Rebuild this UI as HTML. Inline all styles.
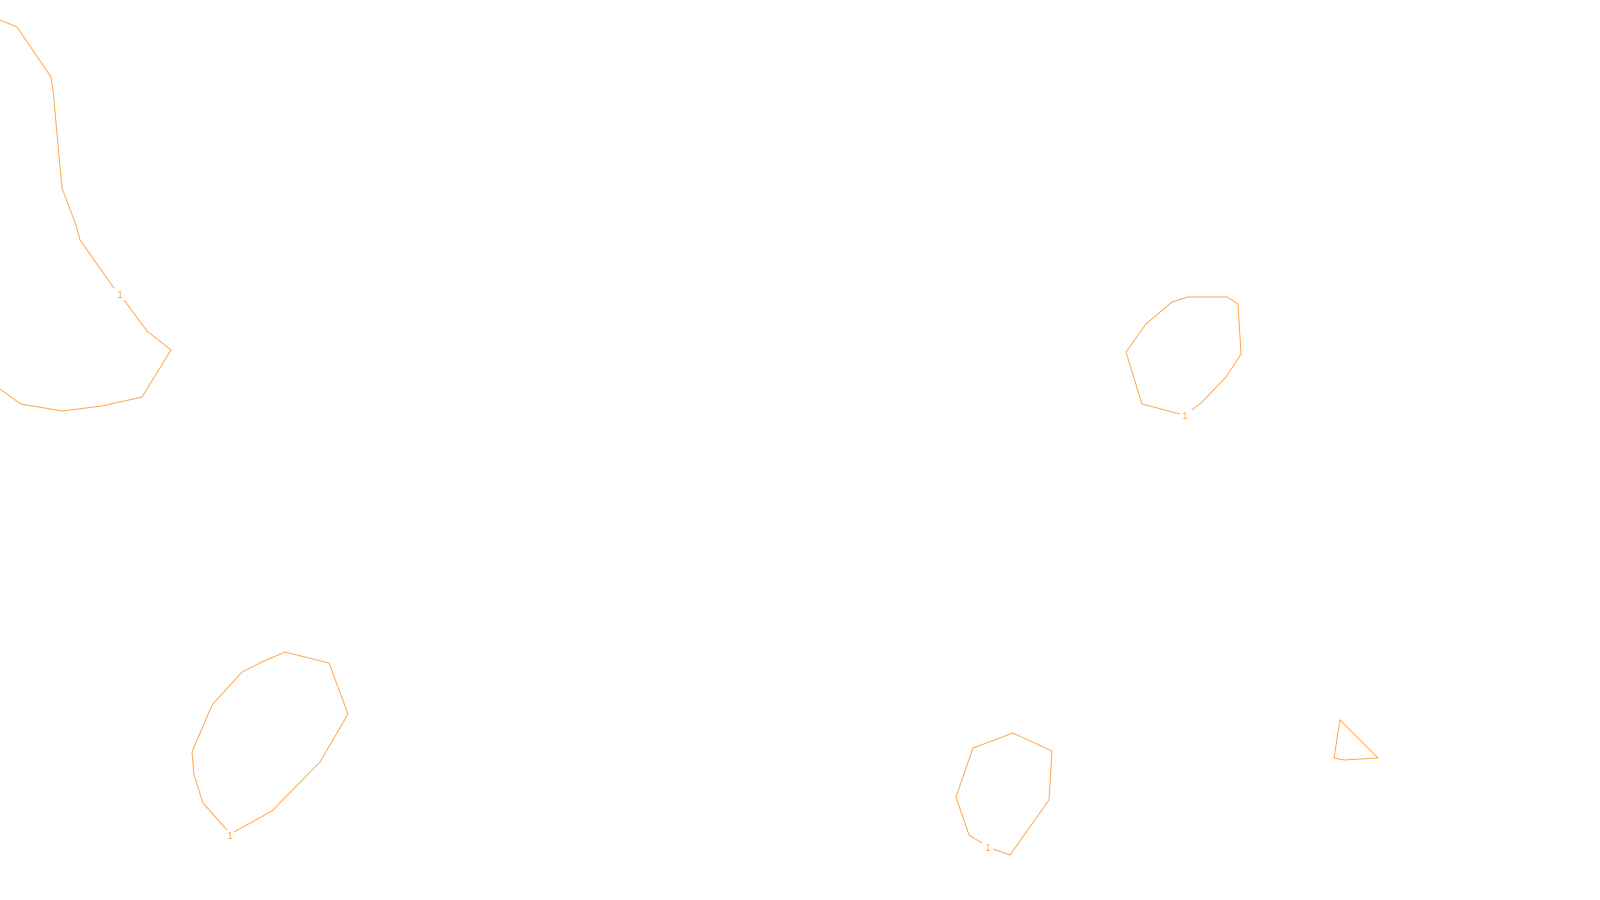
<!DOCTYPE html>
<html><head><style>html,body{margin:0;padding:0;background:#fff;width:1600px;height:900px;overflow:hidden}</style></head>
<body>
<svg width="1600" height="900" xmlns="http://www.w3.org/2000/svg">
<g fill="none" stroke="#ffa64d" stroke-width="1">
<polyline points="0,20 17,27 51,77 53,90 62,188 76,225 80,240 114,288"/>
<polyline points="124,300 147,331 171,350 142,397 102,406 62,411 21,404 0,389"/>
<polyline points="1180,414 1142,404 1126,352 1146,324 1172,302 1188,297 1227,297 1238,304 1241,354 1226,377 1202,402 1192,410"/>
<polyline points="234,832 272,811 320,762 348,714 329,663 285,652 264,661 242,672 212,705 192,752 194,775 203,803 227,830"/>
<polyline points="993,849 1010,855 1049,800 1052,751 1013,733 973,748 956,797 969,835 982,843"/>
<polygon points="1340,720 1378,758 1344,760 1334,758"/>
</g>
<g fill="#ffa64d" font-family="Liberation Sans, sans-serif" font-size="10" text-anchor="middle">
<text x="120" y="298">1</text>
<text x="1185" y="419">1</text>
<text x="230" y="839">1</text>
<text x="988" y="851">1</text>
</g>
</svg>
</body></html>
